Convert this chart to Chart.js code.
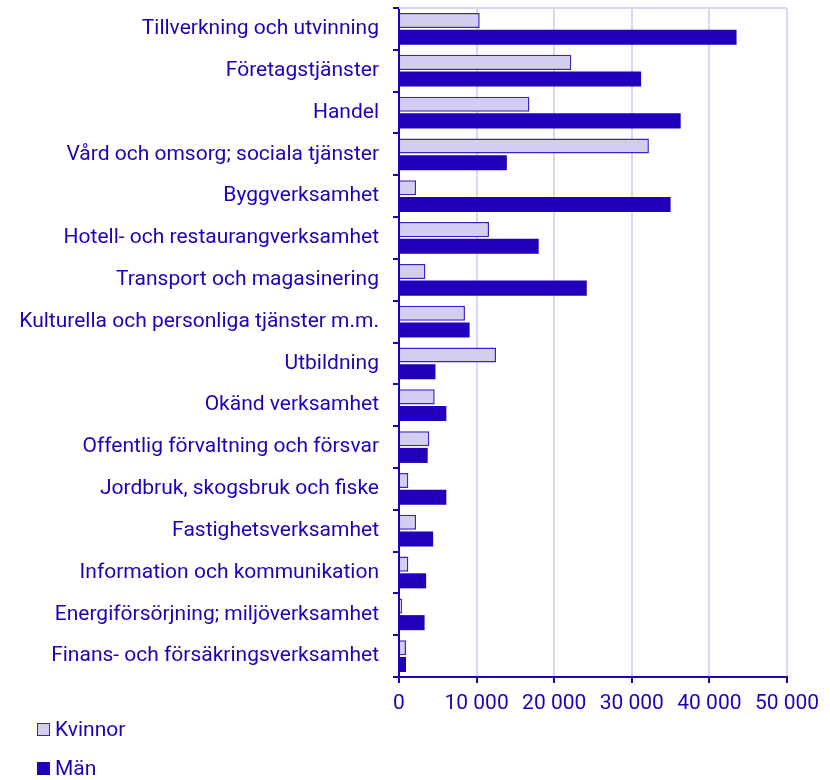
<!DOCTYPE html>
<html>
<head>
<meta charset="utf-8">
<script src="https://cdn.jsdelivr.net/npm/chart.js@4/dist/chart.umd.min.js"></script>
<style>
    body { margin: 0; background: #fff; font-family: Roboto, sans-serif; }
    #wrap { position: relative; width: 830px; height: 720px; }
    .legend { position: absolute; left: 37px; font-size: 21px; color: #2200bb; display: flex; align-items: center; height: 26px; }
    .legend span.box { display: inline-block; width: 13px; height: 13px; margin-right: 5px; box-sizing: border-box; }
</style>
</head>
<body>
<div id="wrap"><canvas id="chart"></canvas></div>
<div class="legend" style="top: 716px;"><span class="box" style="background:#d3cef0;border:1.5px solid #3a22c4;"></span>Kvinnor</div>
<div class="legend" style="top: 755px;"><span class="box" style="background:#2200bb;"></span>Män</div>

<script>
// ---- Data ----
const categories = [
    "Tillverkning och utvinning",
    "Företagstjänster",
    "Handel",
    "Vård och omsorg; sociala tjänster",
    "Byggverksamhet",
    "Hotell- och restaurangverksamhet",
    "Transport och magasinering",
    "Kulturella och personliga tjänster m.m.",
    "Utbildning",
    "Okänd verksamhet",
    "Offentlig förvaltning och försvar",
    "Jordbruk, skogsbruk och fiske",
    "Fastighetsverksamhet",
    "Information och kommunikation",
    "Energiförsörjning; miljöverksamhet",
    "Finans- och försäkringsverksamhet"
];

const kvinnor = [10400, 22200, 16800, 32200, 2200, 11600, 3400, 8500, 12500, 4600, 3900, 1200, 2200, 1200, 400, 900];
const man     = [43500, 31200, 36300, 13900, 35000, 18000, 24200, 9100, 4700, 6100, 3700, 6100, 4400, 3500, 3300, 900];

const xTicks = [0, 10000, 20000, 30000, 40000, 50000];

// ---- Colours ----
const DARK  = "#2200bb";
const LIGHT = "#d3cef0";
const GRID  = "#d8d6f0";

// top frame line of the plot area
const topLine = {
    id: "topLine",
    beforeDatasetsDraw(chart) {
        const a = chart.chartArea;
        const ctx = chart.ctx;
        ctx.save();
        ctx.strokeStyle = GRID;
        ctx.lineWidth = 2;
        ctx.beginPath();
        ctx.moveTo(a.left, a.top);
        ctx.lineTo(a.right, a.top);
        ctx.stroke();
        ctx.restore();
    }
};

function fmt(v) {
    return String(v).replace(/\B(?=(\d{3})+(?!\d))/g, " ");
}

const canvas = document.getElementById("chart");
canvas.width = 830;
canvas.height = 720;

new Chart(canvas, {
    type: "bar",
    data: {
        labels: categories,
        datasets: [
            {
                label: "Kvinnor",
                data: kvinnor,
                backgroundColor: LIGHT,
                borderColor: "#3a22c4",
                borderWidth: 1.5,
                categoryPercentage: 0.8,
                barPercentage: 0.9
            },
            {
                label: "Män",
                data: man,
                backgroundColor: DARK,
                borderColor: DARK,
                borderWidth: 0,
                categoryPercentage: 0.8,
                barPercentage: 0.9
            }
        ]
    },
    options: {
        indexAxis: "y",
        responsive: false,
        animation: false,
        layout: { padding: { top: 8, right: 43, bottom: 8, left: 0 } },
        plugins: {
            legend: { display: false },
            tooltip: { enabled: false }
        },
        scales: {
            x: {
                min: 0,
                max: 50000,
                afterBuildTicks(scale) {
                    scale.ticks = xTicks.map(v => ({ value: v }));
                },
                afterFit(scale) { scale.height = 35; },
                grid: {
                    color: GRID,
                    lineWidth: 2,
                    tickColor: DARK,
                    tickLength: 6
                },
                border: { color: DARK, width: 2 },
                ticks: {
                    color: DARK,
                    font: { family: "Roboto", size: 21 },
                    padding: 8,
                    maxRotation: 0,
                    callback: v => fmt(v)
                }
            },
            y: {
                afterFit(scale) {
                    scale.width = 399;
                    scale.paddingTop = 0;
                    scale.paddingBottom = 0;
                },
                grid: {
                    offset: true,
                    drawOnChartArea: false,
                    color: DARK,
                    lineWidth: 2,
                    tickLength: 6
                },
                border: { color: DARK, width: 2 },
                ticks: {
                    color: DARK,
                    font: { family: "Roboto", size: 21 },
                    padding: 14,
                    autoSkip: false
                }
            }
        }
    },
    plugins: [topLine]
});
</script>
</body>
</html>
